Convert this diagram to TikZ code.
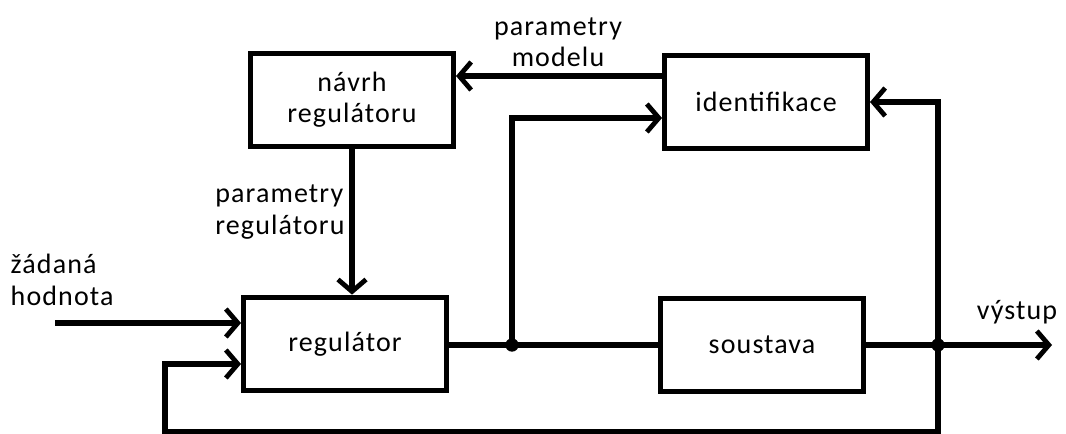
\documentclass[tikz,border=0pt]{standalone}
\usepackage{fontspec}
\setmainfont{Carlito}[LetterSpace=4]
\usetikzlibrary{arrows.meta,positioning,calc}

\begin{document}
\begin{tikzpicture}[x=0.75pt,y=-0.75pt,
    every node/.style={font=\fontsize{21}{23.5}\selectfont},
    blok/.style={draw,line width=4pt,minimum width=152pt,minimum height=70pt,align=center},
    sipka/.style={line width=4pt,-{Straight Barb[length=9pt,width=21pt,line width=3.6pt]}},
    cara/.style={line width=4pt},
    uzel/.style={circle,fill=black,inner sep=0pt,minimum size=10pt}]
    \useasboundingbox (0,0) rectangle (1066,434);
    % bloky
    \node[blok] (navrh) at (352,100) {návrh\\regulátoru};
    \node[blok] (ident) at (766,102) {identifikace};
    \node[blok] (reg) at (345,344) {regulátor};
    \node[blok] (soust) at (762,345) {soustava};
    % popisky
    \node[align=center] (pmodel) at (558,42) {parametry\\modelu};
    \node[align=left] (preg) at (280,212) {parametry\\regulátoru};
    \node[align=left,anchor=west] (zad) at (6,280) {žádaná\\hodnota};
    \node (vystup) at (1017,312) {výstup};
    % pomocne body
    \coordinate (vstup) at (55,323);
    \coordinate (j1) at (512,345);
    \coordinate (j2) at (938,345);
    \coordinate (konec) at (1052,345);
    \coordinate (zpet) at (165,432);
    % spoje
    \draw[sipka] (vstup)--(vstup -| reg.west);
    \draw[cara] (reg.east |- j1)--(soust.west |- j1);
    \draw[sipka] (j1)|-($(ident.west)+(0,16)$);
    \draw[sipka] ($(ident.west)+(0,-26)$)--($(navrh.east)+(0,-24)$);
    \draw[sipka] (navrh.south)--(navrh.south |- reg.north);
    \draw[sipka] (soust.east |- j2)--(konec);
    \draw[sipka] (j2)|-(ident.east);
    \draw[sipka] (j2)--(j2 |- zpet)--(zpet)|-($(reg.west)+(0,20)$);
    \node[uzel] at (j1) {};
    \node[uzel] at (j2) {};
\end{tikzpicture}
\end{document}
